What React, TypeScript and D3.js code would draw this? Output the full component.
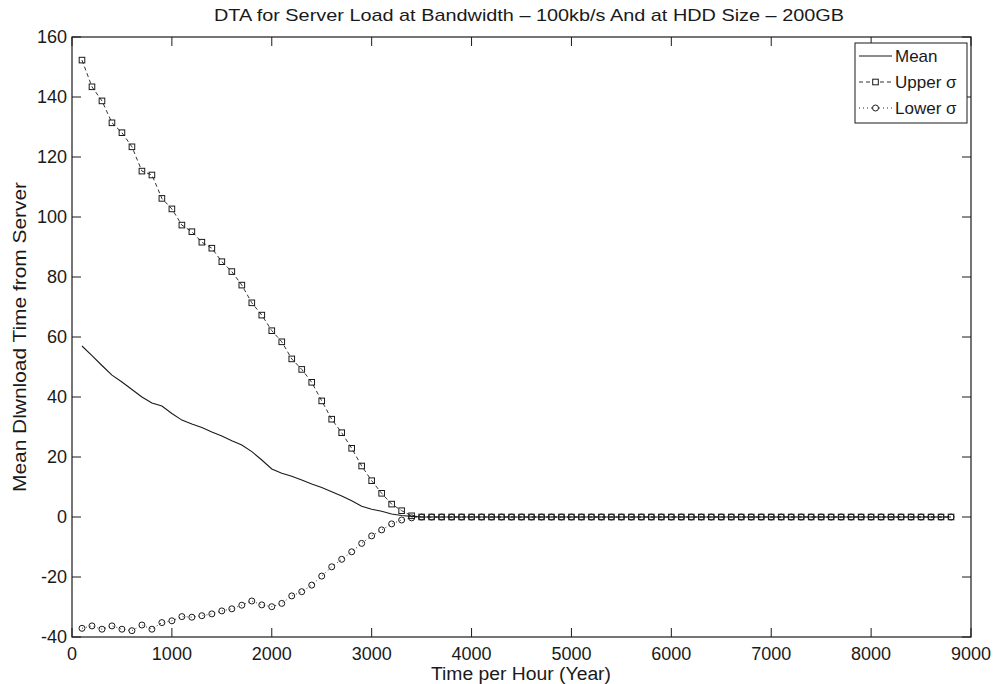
import * as d3 from 'd3';

// sample hours (x), one marker every 100 h
const hours = [
  100, 200, 300, 400, 500, 600, 700, 800, 900, 1000, 1100,
  1200, 1300, 1400, 1500, 1600, 1700, 1800, 1900, 2000, 2100, 2200,
  2300, 2400, 2500, 2600, 2700, 2800, 2900, 3000, 3100, 3200, 3300,
  3400, 3500, 3600, 3700, 3800, 3900, 4000, 4100, 4200, 4300, 4400,
  4500, 4600, 4700, 4800, 4900, 5000, 5100, 5200, 5300, 5400, 5500,
  5600, 5700, 5800, 5900, 6000, 6100, 6200, 6300, 6400, 6500, 6600,
  6700, 6800, 6900, 7000, 7100, 7200, 7300, 7400, 7500, 7600, 7700,
  7800, 7900, 8000, 8100, 8200, 8300, 8400, 8500, 8600, 8700, 8800,
];

const meanValues = [
  57, 53.8, 50.5, 47.3, 45, 42.5, 40, 38, 37, 34.5, 32.3,
  31, 29.8, 28.3, 27, 25.4, 24, 21.8, 19, 16, 14.6, 13.6,
  12.3, 11, 9.8, 8.4, 7, 5.4, 3.6, 2.6, 1.9, 1, 0.5,
  0.2, 0, 0, 0, 0, 0, 0, 0, 0, 0, 0,
  0, 0, 0, 0, 0, 0, 0, 0, 0, 0, 0,
  0, 0, 0, 0, 0, 0, 0, 0, 0, 0, 0,
  0, 0, 0, 0, 0, 0, 0, 0, 0, 0, 0,
  0, 0, 0, 0, 0, 0, 0, 0, 0, 0, 0,
];

const upperValues = [
  152.3, 143.4, 138.7, 131.4, 128.1, 123.4, 115.3, 114, 106.2, 102.7, 97.3,
  95.1, 91.6, 89.6, 85.1, 81.8, 77.3, 71.4, 67.3, 62.1, 58.4, 52.7,
  49.2, 44.9, 38.7, 32.6, 28.1, 22.9, 17, 12.1, 7.9, 4.3, 2.1,
  0.4, 0, 0, 0, 0, 0, 0, 0, 0, 0, 0,
  0, 0, 0, 0, 0, 0, 0, 0, 0, 0, 0,
  0, 0, 0, 0, 0, 0, 0, 0, 0, 0, 0,
  0, 0, 0, 0, 0, 0, 0, 0, 0, 0, 0,
  0, 0, 0, 0, 0, 0, 0, 0, 0, 0, 0,
];

const lowerValues = [
  -37.1, -36.3, -37.4, -36.3, -37.4, -37.9, -36, -37.4, -35.2, -34.6, -33.2,
  -33.4, -32.9, -32.3, -31.3, -30.6, -29.4, -28, -29.3, -29.9, -28.8, -26.3,
  -24.9, -22.7, -19.7, -16.6, -14.1, -11.6, -8.8, -6.3, -4.3, -2.3, -1,
  -0.3, 0, 0, 0, 0, 0, 0, 0, 0, 0, 0,
  0, 0, 0, 0, 0, 0, 0, 0, 0, 0, 0,
  0, 0, 0, 0, 0, 0, 0, 0, 0, 0, 0,
  0, 0, 0, 0, 0, 0, 0, 0, 0, 0, 0,
  0, 0, 0, 0, 0, 0, 0, 0, 0, 0, 0,
];

const xTicks = [0, 1000, 2000, 3000, 4000, 5000, 6000, 7000, 8000, 9000];
const yTicks = [-40, -20, 0, 20, 40, 60, 80, 100, 120, 140, 160];

const title = 'DTA for Server Load at Bandwidth \u2013 100kb/s And at HDD Size \u2013 200GB';
const xLabel = 'Time per Hour (Year)';
const yLabel = 'Mean Dlwnload Time from Server';
const legendLabels = ['Mean', 'Upper \u03c3', 'Lower \u03c3'];

const W = 1001;
const H = 684;
const plot = { left: 72, right: 971, top: 37, bottom: 637 };
const tickLen = 9;
const font = 'Liberation Sans, Arial, Helvetica, sans-serif';
const ink = '#1a1a1a';

export default function App() {
  const x = d3.scaleLinear().domain([0, 9000]).range([plot.left, plot.right]);
  const y = d3.scaleLinear().domain([-40, 160]).range([plot.bottom, plot.top]);

  const pts = (vals: number[]) => hours.map((h, i) => [h, vals[i]] as [number, number]);
  const line = d3.line<[number, number]>().x(d => x(d[0])).y(d => y(d[1]));

  const meanPts = pts(meanValues);
  const upperPts = pts(upperValues);
  const lowerPts = pts(lowerValues);

  const legendX = 855;
  const legendY = 43;
  const rowH = 26;

  return (
    <>
      <style>{`body{margin:0}`}</style>
      <svg width={W} height={H} style={{ display: 'block', background: '#fff' }} fontFamily={font}>
        {/* title */}
        <text x={529} y={21} textAnchor="middle" fontSize={17} fill={ink}
          textLength={630} lengthAdjust="spacingAndGlyphs">
          {title}
        </text>

        {/* data */}
        <path d={line(meanPts) ?? ''} fill="none" stroke={ink} strokeWidth={1.1} />
        <path d={line(upperPts) ?? ''} fill="none" stroke={ink} strokeWidth={0.9} strokeDasharray="4,3" />
        <path d={line(lowerPts) ?? ''} fill="none" stroke={ink} strokeWidth={0.9} strokeDasharray="1,3" />
        {upperPts.map((d, i) => (
          <rect key={`u${i}`} x={x(d[0]) - 2.8} y={y(d[1]) - 2.8} width={5.6} height={5.6}
            fill="none" stroke={ink} strokeWidth={1} />
        ))}
        {lowerPts.map((d, i) => (
          <circle key={`l${i}`} cx={x(d[0])} cy={y(d[1])} r={3} fill="none" stroke={ink} strokeWidth={1} />
        ))}

        {/* frame and inward ticks */}
        <rect x={plot.left} y={plot.top} width={plot.right - plot.left} height={plot.bottom - plot.top}
          fill="none" stroke={ink} strokeWidth={1.2} />
        {xTicks.map(t => (
          <g key={`xt${t}`}>
            <line x1={x(t)} x2={x(t)} y1={plot.bottom} y2={plot.bottom - tickLen} stroke={ink} />
            <line x1={x(t)} x2={x(t)} y1={plot.top} y2={plot.top + tickLen} stroke={ink} />
            <text x={x(t)} y={660} textAnchor="middle" fontSize={18} fill={ink}>{t}</text>
          </g>
        ))}
        {yTicks.map(t => (
          <g key={`yt${t}`}>
            <line x1={plot.left} x2={plot.left + tickLen} y1={y(t)} y2={y(t)} stroke={ink} />
            <line x1={plot.right} x2={plot.right - tickLen} y1={y(t)} y2={y(t)} stroke={ink} />
            <text x={plot.left - 5} y={y(t)} dy="0.36em" textAnchor="end" fontSize={18} fill={ink}>{t}</text>
          </g>
        ))}

        {/* axis labels */}
        <text x={521} y={680} textAnchor="middle" fontSize={18} fill={ink}
          textLength={180} lengthAdjust="spacingAndGlyphs">{xLabel}</text>
        <text transform={`translate(26,${(plot.top + plot.bottom) / 2}) rotate(-90)`} textAnchor="middle"
          fontSize={18} fill={ink} textLength={310} lengthAdjust="spacingAndGlyphs">{yLabel}</text>

        {/* legend */}
        <rect x={legendX} y={legendY} width={112} height={80} fill="#fff" stroke={ink} strokeWidth={1} />
        {legendLabels.map((lab, i) => {
          const cy = legendY + 13 + i * rowH;
          const x1 = legendX + 4;
          const x2 = legendX + 37;
          const mid = (x1 + x2) / 2;
          return (
            <g key={lab}>
              <line x1={x1} x2={x2} y1={cy} y2={cy} stroke={ink} strokeWidth={i === 0 ? 1.1 : 0.9}
                strokeDasharray={i === 0 ? undefined : i === 1 ? '4,3' : '1,3'} />
              {i === 1 && <rect x={mid - 2.8} y={cy - 2.8} width={5.6} height={5.6} fill="#fff" stroke={ink} />}
              {i === 2 && <circle cx={mid} cy={cy} r={3} fill="#fff" stroke={ink} />}
              <text x={legendX + 40} y={cy} dy="0.36em" fontSize={17} fill={ink}>{lab}</text>
            </g>
          );
        })}
      </svg>
    </>
  );
}
